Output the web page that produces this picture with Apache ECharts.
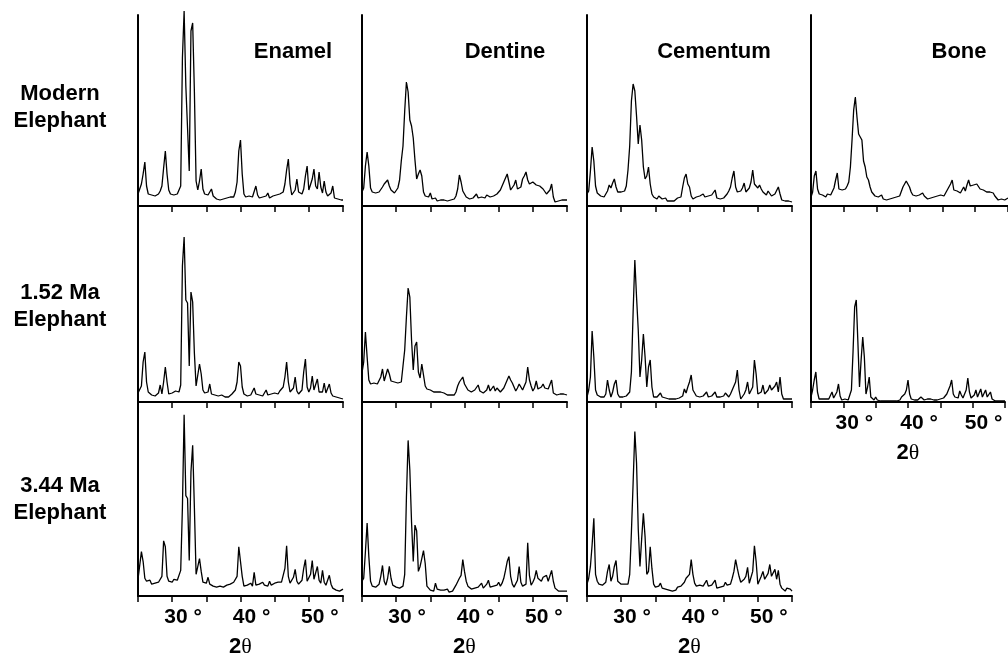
<!DOCTYPE html>
<html><head><meta charset="utf-8">
<script src="https://cdn.jsdelivr.net/npm/echarts@6/dist/echarts.min.js"></script>
<style>html,body{margin:0;padding:0;background:#fff}#c{width:1008px;height:659px}</style>
</head><body><div id="c"></div>
<script>
// 2-theta sampling grid (degrees), 25 .. 55 every 0.25
const twoTheta = Array.from({length:121},(_,i)=>25+i*0.25);
const tickLabels = {30:'30 °',40:'40 °',50:'50 °'};
const rowLabels = ['Modern\nElephant','1.52 Ma\nElephant','3.44 Ma\nElephant'];
const columnTitles = ['Enamel','Dentine','Cementum','Bone'];

// intensities, one value per 0.25 deg
const enamelModern = [
12,17,22,32, 44,20,12,10, 11,9,10,11, 12,15,20,38, 55,32,16,12, 12,11,13,12,
13,20,148,195, 120,78,35,175, 183,115,25,16, 25,37,17,12, 10,11,10,17, 10,8,7,8,
6,8,7,6, 8,7,9,8, 9,14,24,55, 66,32,12,9, 8,10,8,9, 10,20,11,8, 7,9,8,10,
13,8,9,10, 9,11,10,12, 11,14,22,36, 47,22,11,13, 16,27,14,15, 12,17,30,40,
16,14,27,37, 20,17,34,19, 13,25,14,10, 9,13,20,8, 6,7,5,6, 6];
const enamel152 = [
9,11,16,40, 50,20,10,8, 7,8,6,8, 9,17,8,20, 35,20,8,10, 9,10,11,9,
10,17,136,165, 102,99,36,110, 100,49,16,15, 38,28,12,9, 8,10,18,8, 6,7,5,6,
5,7,6,5, 6,5,7,8, 9,12,20,40, 36,15,8,7, 6,8,7,9, 14,8,6,7, 8,6,7,12,
7,6,8,7, 9,10,8,11, 12,15,25,40, 20,10,8,14, 25,11,8,9, 12,30,43,15,
10,14,26,12, 12,23,10,12, 10,19,9,10, 18,9,6,5, 5,4,4,3, 3];
const enamel344 = [
17,18,45,35, 18,15,13,16, 12,14,13,15, 14,16,20,56, 50,20,15,16, 14,17,15,16,
18,26,90,184, 102,99,36,126, 153,90,22,20, 38,25,14,12, 13,19,12,11, 10,12,9,11,
10,12,9,10, 11,9,12,10, 14,12,20,50, 50,20,10,12, 11,9,13,10, 24,11,9,12, 10,14,11,13,
10,15,11,12, 13,11,14,15, 14,16,28,51, 20,13,15,19, 27,15,12,14, 16,28,37,15,
13,22,36,17, 15,30,16,13, 26,14,11,10, 21,12,8,9, 6,8,5,7, 7];
const dentineModern = [
14,18,40,54, 40,18,14,12, 13,11,14,12, 19,22,24,26, 20,16,14,13, 15,18,26,45,
60,95,124,114, 86,80,68,46, 27,32,36,30, 14,10,8,9, 13,7,6,8, 5,7,6,4,
6,8,5,7, 6,8,7,10, 17,31,24,15, 12,9,8,7, 9,8,10,12, 8,7,9,10, 8,11,12,9,
8,10,9,12, 11,16,18,24, 28,32,24,16, 18,21,26,17, 16,19,27,30, 34,26,22,20,
24,22,21,19, 20,19,17,15, 12,14,16,22, 9,4,6,5, 7,6,5,6, 6];
const dentine152 = [
29,40,70,45, 22,18,18,19, 20,18,19,25, 33,21,20,33, 28,21,19,20, 18,19,18,20,
36,52,85,114, 105,62,32,56, 60,30,24,38, 36,16,13,12, 12,11,10,11, 10,9,10,8,
9,8,7,8, 7,6,7,10, 16,20,22,25, 18,15,12,11, 10,11,12,10, 17,11,10,9, 11,12,17,11,
10,16,11,14, 14,10,12,14, 18,22,26,22, 19,15,11,14, 18,17,12,11, 20,35,22,16,
11,14,21,13, 12,15,18,14, 16,13,12,22, 9,8,7,8, 8,7,8,8, 7];
const dentine344 = [
15,18,45,74, 40,15,10,11, 9,10,12,20, 31,15,11,18, 30,18,11,10, 9,10,8,9,
10,22,100,158, 128,75,35,72, 66,25,30,38, 46,33,10,8, 6,7,5,13, 7,5,6,4,
6,5,7,4, 6,5,8,11, 12,18,21,37, 25,15,10,8, 7,9,8,10, 9,11,13,8, 10,12,16,9,
8,10,9,11, 14,10,13,18, 26,35,40,20, 12,9,11,16, 30,14,10,11, 12,54,21,11,
14,18,26,18, 18,15,19,18, 21,15,17,26, 15,8,6,5, 6,5,4,5, 5];
const cementumModern = [
12,15,35,59, 45,20,13,11, 10,12,9,11, 15,21,18,23, 27,19,14,12, 14,16,15,20,
36,60,105,122, 115,90,62,81, 66,39,27,30, 39,22,12,9, 8,7,10,12, 7,6,8,5,
6,5,7,5, 6,8,7,9, 19,28,32,22, 19,10,7,8, 9,7,10,8, 12,9,8,10, 9,11,13,16,
8,6,7,9, 8,10,12,15, 19,28,35,19, 14,12,15,18, 23,14,13,18, 24,36,22,20,
18,21,17,14, 13,11,15,17, 10,9,12,14, 19,12,6,5, 5,4,5,4, 4];
const cementum152 = [
5,12,25,71, 45,12,7,6, 5,6,5,8, 22,12,5,10, 18,22,8,5, 6,5,7,6,
8,10,30,90, 142,105,72,25, 42,68,45,15, 35,42,15,5, 3,5,7,9, 5,3,4,2,
3,2,3,2, 3,2,4,5, 6,13,9,15, 20,27,12,10, 6,4,5,7, 6,8,10,5, 4,6,7,10,
5,3,5,4, 6,9,7,5, 8,12,14,20, 32,12,3,5, 8,12,20,8, 8,15,42,28,
8,6,10,17, 8,10,12,17, 12,11,16,20, 10,25,8,3, 2,3,2,3, 3];
const cementum344 = [
12,18,30,52, 79,22,15,12, 10,11,9,14, 25,32,15,20, 30,36,15,13, 12,11,12,13,
12,22,65,115, 167,135,68,30, 58,84,60,22, 25,50,28,12, 9,7,10,13, 8,6,7,5,
6,8,5,7, 6,9,7,10, 12,14,18,20, 22,37,22,13, 10,8,11,9, 10,12,16,10, 8,11,9,16,
8,6,9,8, 10,14,11,9, 12,18,25,37, 28,20,14,12, 17,20,29,13, 15,25,51,35,
12,14,20,25, 17,18,23,32, 20,22,27,17, 26,12,8,6, 5,8,6,7, 5];
const boneModern = [
9,14,30,35, 17,12,10,11, 13,9,12,14, 11,13,18,26, 33,17,15,16, 15,17,20,24,
39,66,96,109, 89,72,69,66, 45,39,29,26, 19,14,12,10, 11,9,8,11, 7,9,6,8,
7,5,8,6, 9,7,10,12, 19,22,25,27, 19,14,11,9, 10,8,11,9, 13,10,8,7, 6,8,7,9,
8,10,9,11, 12,10,13,16, 19,22,26,16, 18,15,17,13, 15,19,15,21, 26,20,18,21,
19,22,20,17, 19,16,18,14, 15,14,12,13, 10,9,6,8, 7,9,6,8, 8];
const bone152 = [
5,12,22,30, 10,3,2,3, 2,3,2,3, 5,10,4,2, 10,18,6,2, 2,3,2,2,
3,12,50,95, 102,60,15,42, 65,45,8,15, 25,5,3,2, 5,2,1,1, 1,1,1,1,
1,1,1,1, 1,1,1,2, 5,6,8,12, 22,8,3,2, 2,3,2,2, 5,3,2,2, 3,2,3,2,
2,3,2,2, 3,2,4,6, 8,12,16,22, 8,5,3,4, 11,7,4,5, 12,24,10,4,
3,7,12,5, 6,13,5,6, 12,5,7,10, 3,2,1,1, 1,1,1,1, 1];

const FONT = '"Liberation Sans", Arial, Helvetica, sans-serif';
const colLeft = [138, 362, 587, 811], colW = 205;
const rowTop = [15, 206, 402], rowBot = [206, 402, 599];
const panels = [
  [0,0,enamelModern],[1,0,dentineModern],[2,0,cementumModern],[3,0,boneModern],
  [0,1,enamel152],[1,1,dentine152],[2,1,cementum152],[3,1,bone152],
  [0,2,enamel344],[1,2,dentine344],[2,2,cementum344]
];

const grid=[], xAxis=[], yAxis=[], series=[];
panels.forEach(([c,r,vals],i)=>{
  const h = rowBot[r]-rowTop[r];
  const bottom = (r===2) || (c===3 && r===1);
  grid.push({left:colLeft[c], top:rowTop[r], width:colW, height:h, containLabel:false});
  xAxis.push({
    gridIndex:i, type:'value', min:25, max:55, interval:5,
    axisLine:{show:true, onZero:false, lineStyle:{color:'#000', width:2}},
    axisTick:{show:true, length:6, lineStyle:{color:'#000', width:1.5}},
    splitLine:{show:false},
    axisLabel:{show:bottom, formatter:v=>tickLabels[v]||'', color:'#000',
      fontSize:21, fontWeight:'bold', fontFamily:FONT, margin:11, padding:[0,0,0,22]},
    name: bottom ? '{a|2}{b|θ}' : '', nameLocation:'middle', nameGap:40,
    nameTextStyle:{rich:{
      a:{fontSize:22, fontWeight:'bold', fontFamily:FONT, color:'#000'},
      b:{fontSize:22, fontFamily:'"Liberation Serif", "DejaVu Serif", serif', color:'#000'}}}
  });
  yAxis.push({
    gridIndex:i, type:'value', min:0, max:h,
    axisLine:{show:true, lineStyle:{color:'#000', width:2}},
    axisTick:{show:false}, axisLabel:{show:false}, splitLine:{show:false}
  });
  series.push({
    type:'line', xAxisIndex:i, yAxisIndex:i,
    data: twoTheta.map((x,k)=>[x, vals[k]]),
    showSymbol:false, symbol:'none', clip:false, silent:true,
    lineStyle:{color:'#000', width:1.3}
  });
});

const titleX = [293, 505, 714, 959];
const rowY = [107, 306, 499];
const graphic = [];
columnTitles.forEach((t,i)=>graphic.push({type:'text', x:titleX[i], y:52,
  style:{text:t, font:'bold 22px '+FONT, fill:'#000', textAlign:'center', textVerticalAlign:'middle'}}));
rowLabels.forEach((t,i)=>graphic.push({type:'text', x:60, y:rowY[i],
  style:{text:t, font:'bold 22px '+FONT, fill:'#000', textAlign:'center', textVerticalAlign:'middle', lineHeight:27}}));

const chart = echarts.init(document.getElementById('c'), null, {renderer:'canvas'});
chart.setOption({animation:false, backgroundColor:'#fff', grid, xAxis, yAxis, series, graphic});
</script></body></html>
